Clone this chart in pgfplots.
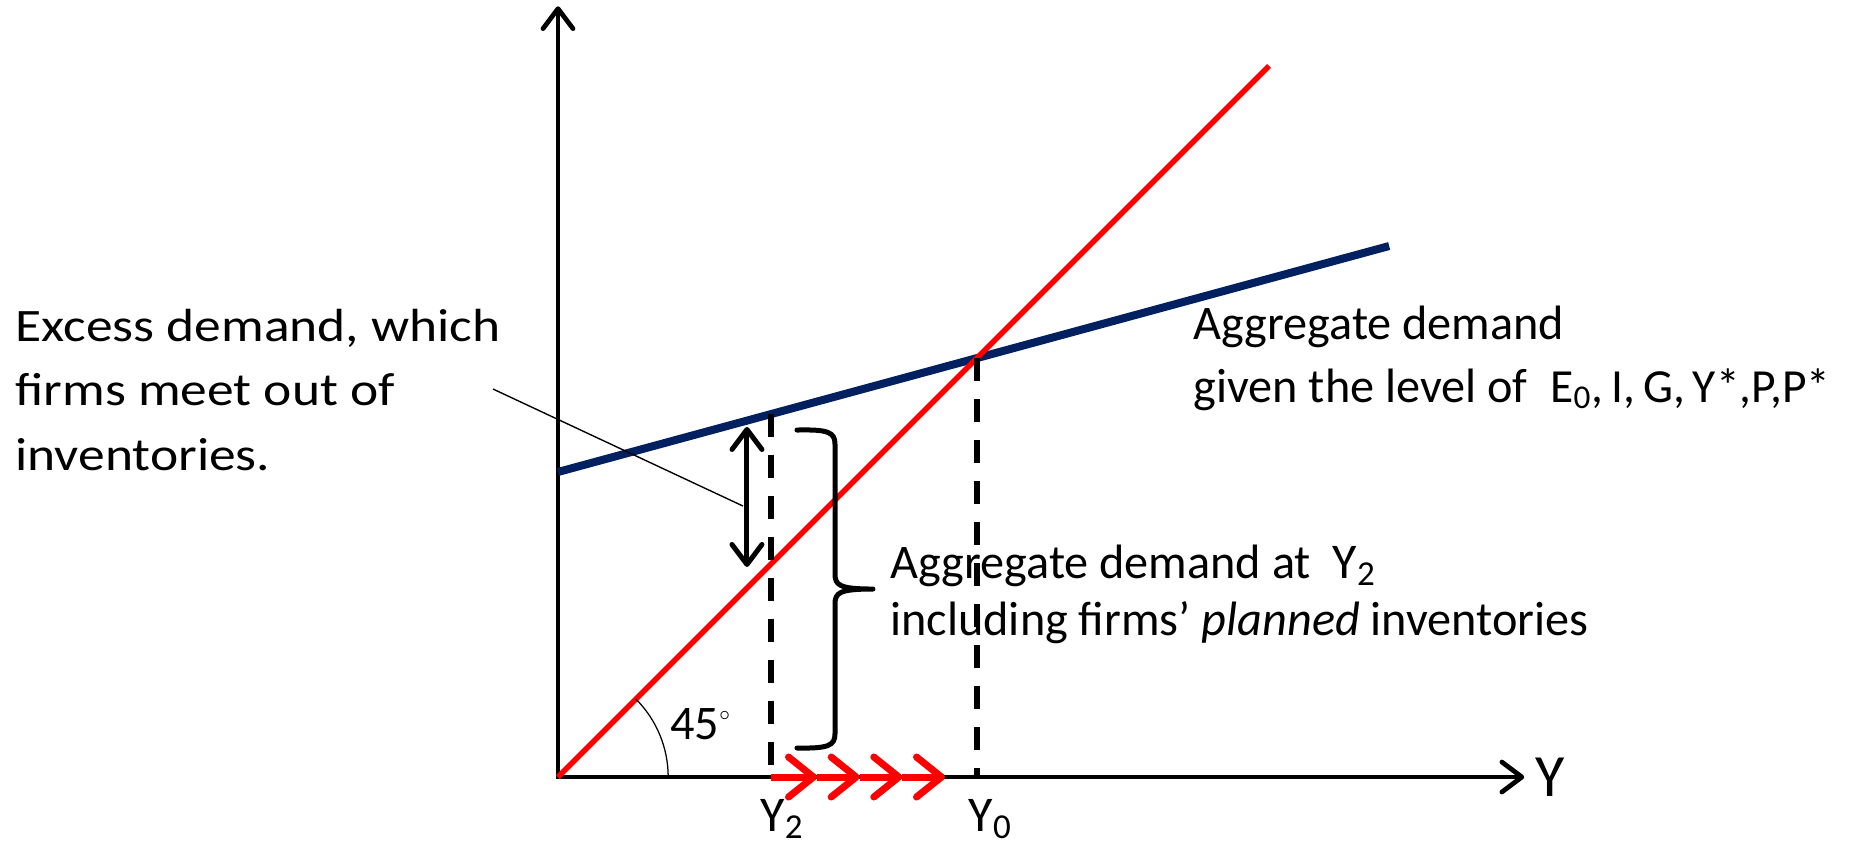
\documentclass[border=0pt]{standalone}
\usepackage{pgfplots}
\pgfplotsset{compat=1.18}
\usetikzlibrary{arrows.meta}
\usepackage{fontspec}
\setmainfont{Carlito}
\newfontfamily\widefont{Carlito}[FakeStretch=1.15]

\definecolor{adblue}{HTML}{002060}
\definecolor{adred}{HTML}{FF0000}

\newcommand\lbl{\fontsize{19.3}{23}\selectfont}
\newcommand\wlbl{\widefont\fontsize{18.6}{22}\selectfont}
\newcommand\ylbl{\fontsize{20}{24}\selectfont}
\newcommand\sym{\fontsize{19}{23}\selectfont}

\begin{document}
\begin{tikzpicture}
\begin{axis}[
  width=741.6pt, height=338pt, scale only axis,
  xmin=-7.848, xmax=18.228, ymin=-0.956, ymax=10.928,
  hide axis, clip=false,
]
\coordinate (BL) at (rel axis cs:0,0);
\coordinate (TR) at (rel axis cs:1,1);

% coordinate axes
\draw[line width=1.9pt, line join=miter,
  {Straight Barb[length=8pt,width=12pt,round]}-{Straight Barb[length=8pt,width=12pt,round]}]
  (0,10.84) -- (0,0) -- (13.59,0);

% aggregate demand line
\addplot[adblue, line width=3.2pt] coordinates {(0,4.29) (11.69,7.468)};
% 45-degree line
\addplot[adred, line width=2.2pt] coordinates {(0,0) (10,10)};

% output levels Y2 and Y0
\addplot[black, line width=2.5pt, dash pattern=on 9.2pt off 7.2pt] coordinates {(3,5.106) (3,0)};
\addplot[black, line width=2.5pt, dash pattern=on 9.2pt off 7.2pt] coordinates {(5.892,5.892) (5.892,0)};

% excess demand gap
\addplot[black, line width=2pt,
  {Straight Barb[length=8pt,width=12pt,round]}-{Straight Barb[length=8pt,width=12pt,round]}]
  coordinates {(2.658,4.923) (2.658,2.954)};
\addplot[black, line width=0.55pt] coordinates {(-0.914,5.457) (2.602,3.811)};

% brace for aggregate demand at Y2
\draw[line width=2pt, line cap=round, line join=round]
  (3.361,4.88) .. controls (3.80,4.89) and (3.896,4.85) .. (3.896,4.68)
  -- (3.896,2.86) .. controls (3.896,2.70) and (3.95,2.644) .. (4.43,2.644)
  .. controls (3.95,2.644) and (3.896,2.59) .. (3.896,2.43)
  -- (3.896,0.61) .. controls (3.896,0.44) and (3.80,0.40) .. (3.361,0.408);

% angle of the 45-degree line
\draw[line width=0.5pt] (1.55,0) arc[start angle=0, end angle=45, radius=44.1pt];

% adjustment of output towards Y0
\addplot[adred, line width=2.8pt, -{Straight Barb[length=10pt,width=16pt,round]}] coordinates {(3.0,0) (3.643,0)};
\addplot[adred, line width=2.8pt, -{Straight Barb[length=10pt,width=16pt,round]}] coordinates {(3.643,0) (4.243,0)};
\addplot[adred, line width=2.8pt, -{Straight Barb[length=10pt,width=16pt,round]}] coordinates {(4.243,0) (4.843,0)};
\addplot[adred, line width=2.8pt, -{Straight Barb[length=10pt,width=16pt,round]}] coordinates {(4.843,0) (5.443,0)};

% labels
\node[anchor=base west, inner sep=0, font=\wlbl] at (-7.637,6.132) {Excess demand, which};
\node[anchor=base west, inner sep=0, font=\wlbl] at (-7.637,5.232) {firms meet out of};
\node[anchor=base west, inner sep=0, font=\wlbl] at (-7.637,4.304) {inventories.};

\node[anchor=base west, inner sep=0, font=\lbl] at (8.931,6.160) {Aggregate demand};
\node[anchor=base west, inner sep=0, font=\lbl] at (8.931,5.274) {given the level of};
\node[anchor=base east, inner sep=0, font=\sym] at (17.9,5.274)
  {E\textsubscript{0},\,I,\,G,\,Y*,P,P*};

\node[anchor=base west, inner sep=0, font=\lbl] at (4.669,2.799) {Aggregate demand at\ \ {\ylbl Y\textsubscript{2}}};
\node[anchor=base west, inner sep=0, font=\lbl] at (4.669,1.997) {including firms’ \textit{planned} inventories};

\node[anchor=base west, inner sep=0, font=\lbl] at (1.575,0.534) {45\textsuperscript{\fontsize{8}{8}\selectfont$\circ$}};

\node[anchor=base west, inner sep=0, font=\ylbl] at (2.84,-0.76) {Y\textsubscript{2}};
\node[anchor=base west, inner sep=0, font=\ylbl] at (5.77,-0.76) {Y\textsubscript{0}};
\node[anchor=base west, inner sep=0, font=\fontsize{24}{28}\selectfont] at (13.74,-0.267) {Y};
\end{axis}
\pgfresetboundingbox
\useasboundingbox (BL) rectangle (TR);
\end{tikzpicture}
\end{document}
